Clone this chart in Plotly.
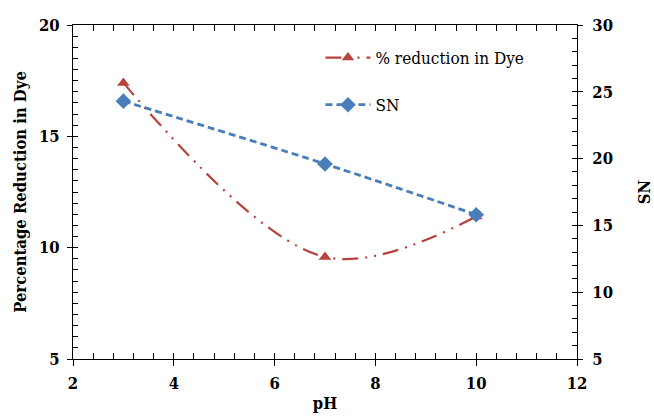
import plotly.graph_objects as go

# pH values tested
ph = [3, 7, 10]
# Percentage reduction in dye at each pH
dye_reduction = [17.4, 9.58, 11.4]
# SN ratio at each pH
sn = [24.3, 19.6, 15.8]

RED = "#B8433E"
BLUE = "#4A7EBB"
FONT = "DejaVu Serif Condensed"

fig = go.Figure()

fig.add_trace(go.Scatter(
    x=ph, y=dye_reduction, name="% reduction in Dye",
    mode="lines+markers", line=dict(color=RED, width=2.2, shape="spline",
                                    dash="16px,7px,2px,7px,2px,7px"),
    marker=dict(symbol="triangle-up", size=11, color=RED),
    legendgroup="a", xaxis="x", yaxis="y",
))
fig.add_trace(go.Scatter(
    x=ph, y=sn, name="SN",
    mode="lines+markers", line=dict(color=BLUE, width=2.8, shape="spline",
                                    dash="7px,4px"),
    marker=dict(symbol="diamond", size=12, color=BLUE),
    legendgroup="b", xaxis="x", yaxis="y2",
))
# empty traces that carry the outward halves of the major ticks
fig.add_trace(go.Scatter(x=[None], y=[None], xaxis="x2", yaxis="y3",
                         showlegend=False, hoverinfo="skip"))
fig.add_trace(go.Scatter(x=[None], y=[None], xaxis="x2", yaxis="y4",
                         showlegend=False, hoverinfo="skip"))

tickfont = dict(family=FONT, size=16.5, color="black", weight="bold")
titlefont = dict(family=FONT, size=16.5, color="black", weight="bold")

common_x = dict(range=[2, 12], dtick=2, tick0=2, showgrid=False, zeroline=False)

fig.update_layout(
    width=654, height=417,
    margin=dict(l=73, r=77, t=25, b=58, autoexpand=False),
    paper_bgcolor="white", plot_bgcolor="white",
    font=dict(family=FONT, color="black"),
    xaxis=dict(**common_x, showline=True, linecolor="black", linewidth=1,
               mirror="allticks", ticks="inside", ticklen=6, tickcolor="black",
               minor=dict(dtick=0.4, ticks="inside", ticklen=4, tickcolor="black"),
               tickfont=tickfont, ticklabelstandoff=9, automargin=False,
               title=dict(text="pH", font=titlefont, standoff=5)),
    xaxis2=dict(**common_x, overlaying="x", anchor="y3", side="bottom",
                showline=False, ticks="outside", ticklen=6, tickcolor="black",
                showticklabels=False),
    yaxis=dict(range=[5, 20], dtick=5, tick0=5, showgrid=False, zeroline=False,
               showline=True, linecolor="black", linewidth=1,
               ticks="inside", ticklen=5, tickcolor="black",
               minor=dict(dtick=0.5, ticks="inside", ticklen=5, tickcolor="black"),
               tickfont=tickfont, ticklabelstandoff=9, automargin=False,
               title=dict(text="Percentage Reduction in Dye", font=titlefont,
                          standoff=8)),
    yaxis2=dict(range=[5, 30], dtick=5, tick0=5, showgrid=False, zeroline=False,
                overlaying="y", side="right", anchor="x",
                showline=True, linecolor="black", linewidth=1,
                ticks="inside", ticklen=5, tickcolor="black",
                minor=dict(dtick=1, ticks="inside", ticklen=5, tickcolor="black"),
                tickfont=tickfont, ticklabelstandoff=11, automargin=False,
                title=dict(text="SN", font=titlefont, standoff=28)),
    yaxis3=dict(range=[5, 20], dtick=5, tick0=5, overlaying="y", side="left",
                anchor="x2", showgrid=False, zeroline=False, showline=False,
                ticks="outside", ticklen=5, tickcolor="black",
                showticklabels=False),
    yaxis4=dict(range=[5, 30], dtick=5, tick0=5, overlaying="y", side="right",
                anchor="x2", showgrid=False, zeroline=False, showline=False,
                ticks="outside", ticklen=5, tickcolor="black",
                showticklabels=False),
    legend=dict(x=0.491, y=0.955, xanchor="left", yanchor="top",
                bgcolor="rgba(0,0,0,0)", tracegroupgap=22, itemwidth=45,
                font=dict(family=FONT, size=17, color="black")),
    showlegend=True,
)

fig.write_html("out.html")
